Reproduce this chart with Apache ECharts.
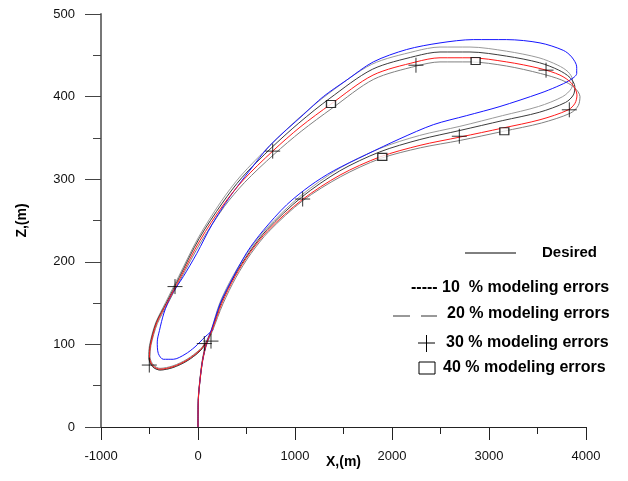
<!DOCTYPE html>
<html>
<head>
<meta charset="utf-8">
<script src="https://cdn.jsdelivr.net/npm/echarts@6/dist/echarts.min.js"></script>
<style>
html,body{margin:0;padding:0;background:#fff;}
#main{width:628px;height:481px;}
</style>
</head>
<body>
<div id="main"></div>
<script>
var fontFam = 'Liberation Sans, Arial, sans-serif';

// trajectories, [x, z] in m, in flight order (climb, right turn, back left, small loop)
var desiredPts = [[0,0],[3,33],[21,57],[48,81],[90,102],[134,116],[227,149],[330,174],[502,211],[673,238],
    [914,269],[1155,292],[1395,310],[1739,330],[2082,349],[2426,366],[2770,377],[3113,388],[3526,404],[3698,412],
    [3835,420],[3904,428],[3904,436],[3852,448],[3766,456],[3526,465],[3182,469],[2838,469],[2495,465],[2151,457],
    [1807,442],[1533,420],[1292,400],[1085,378],[742,341],[536,311],[330,279],[144,245],[-13,210],
    [-152,182],[-278,159],[-351,138],[-397,117],[-420,103],[-409,89],[-358,82],[-255,82],[-134,88],[-31,97],
    [72,109],[158,118]];
var err10Pts = [[0,0],[2,33],[19,57],[45,82],[86,103],[138,118],[227,151],[361,183],[516,212],[702,240],
    [1060,280],[1455,313],[1870,337],[2285,353],[2700,364],[3140,377],[3510,388],[3760,400],[3850,410],[3862,420],
    [3815,430],[3710,438],[3515,447],[3180,455],[2804,460],[2495,460],[2240,455],[1790,439],[1350,404],[1030,373],
    [745,341],[440,304],[238,273],[2,229],[-200,182],[-333,151],[-437,126],[-500,99],[-508,84],[-470,73],
    [-392,69],[-258,72],[-113,80],[21,92],[82,102]];
var err20Pts = [[0,0],[3,33],[20,57],[47,81],[88,102],[141,117],[237,150],[371,182],[526,211],[712,239],
    [1066,278],[1460,310],[1873,333],[2287,348],[2700,359],[3142,371],[3518,381],[3790,393],[3870,402],[3885,412],
    [3835,423],[3720,432],[3520,441],[3182,449],[2804,454],[2495,454],[2243,449],[1797,433],[1360,398],[1040,368],
    [757,338],[453,302],[250,271],[11,228],[-193,181],[-327,150],[-432,126],[-495,99],[-504,84],[-467,73],
    [-392,69],[-258,72],[-113,80],[21,92],[82,102]];
var err30Pts = [[0,0],[4,33],[22,57],[50,81],[93,101],[148,116],[257,149],[391,181],[546,210],[732,237],
    [1080,274],[1470,303],[1880,325],[2292,338],[2705,347],[3148,358],[3540,368],[3840,380],[3920,389],[3938,400],
    [3880,411],[3750,420],[3530,428],[3182,437],[2804,442],[2495,442],[2250,437],[1812,421],[1384,386],[1064,358],
    [783,330],[480,296],[272,267],[31,224],[-179,179],[-313,149],[-420,125],[-485,99],[-495,85],[-460,75],
    [-392,71],[-258,74],[-113,82],[21,94],[82,103]];
var err40Pts = [[0,0],[3,33],[21,57],[48,81],[90,102],[144,117],[247,150],[381,182],[536,211],[722,238],
    [1072,275],[1464,305],[1876,327],[2289,341],[2701,351],[3144,362],[3526,372],[3818,384],[3887,392],[3907,402],
    [3852,416],[3732,426],[3526,434],[3182,442],[2804,447],[2495,447],[2247,442],[1804,426],[1371,391],[1052,363],
    [770,334],[467,299],[261,269],[21,226],[-186,180],[-320,150],[-426,126],[-490,99],[-500,84],[-464,74],
    [-392,70],[-258,73],[-113,81],[21,93],[82,102]];

// marker positions
var crossPts = [[-502,75],[-237,170],[770,334],[1079,276],[2247,438],[2694,352],[3588,432],[3828,384],[65,101],[134,104]];
var squarePts = [[1371,391],[2862,443],[3158,358],[1900,327]];

var xTickLabels = ['-1000', '0', '1000', '2000', '3000', '4000'];

var chart = echarts.init(document.getElementById('main'));

function lineSeries(name, pts, color, z){
    return {
        name: name,
        type: 'line',
        data: pts,
        smooth: 0.3,
        showSymbol: false,
        z: z,
        lineStyle: {color: color, width: 1},
        itemStyle: {color: color}
    };
}

var txt = function(x, y, s, size){
    return {type: 'text', x: x, y: y, style: {text: s, font: 'bold ' + size + 'px ' + fontFam, fill: '#000',
        textAlign: 'left', textVerticalAlign: 'middle', align: 'left', verticalAlign: 'middle'}};
};
var seg = function(x1, y1, x2, y2, c){
    return {type: 'line', shape: {x1: x1, y1: y1, x2: x2, y2: y2}, style: {stroke: c, lineWidth: 1}};
};

var option = {
    backgroundColor: '#fff',
    animation: false,
    grid: {left: 101, right: 42, top: 14, bottom: 54, containLabel: false, outerBoundsMode: 'none'},
    xAxis: {
        type: 'value',
        min: -1000, max: 4000, interval: 1000,
        name: 'X,(m)',
        nameLocation: 'middle',
        nameGap: 28,
        nameMoveOverlap: false,
        nameTextStyle: {color: '#000', fontWeight: 'bold', fontSize: 14, fontFamily: fontFam},
        axisLine: {onZero: false, lineStyle: {color: '#222', width: 1}},
        axisTick: {length: 13, lineStyle: {color: '#222'}},
        minorTick: {show: true, splitNumber: 2, length: 7, lineStyle: {color: '#222'}},
        splitLine: {show: false},
        axisLabel: {
            margin: 23, fontSize: 13, color: '#111', fontFamily: fontFam,
            formatter: function(v){ return xTickLabels[Math.round((v + 1000) / 1000)]; }
        }
    },
    yAxis: {
        type: 'value',
        min: 0, max: 500, interval: 100,
        name: 'Z,(m)',
        nameLocation: 'middle',
        nameGap: 72,
        nameMoveOverlap: false,
        nameTextStyle: {color: '#000', fontWeight: 'bold', fontSize: 14, fontFamily: fontFam},
        axisLine: {onZero: false, lineStyle: {color: '#777', width: 2}},
        axisTick: {length: 16, lineStyle: {color: '#444'}},
        minorTick: {show: true, splitNumber: 2, length: 8, lineStyle: {color: '#444'}},
        splitLine: {show: false},
        axisLabel: {margin: 26, fontSize: 13, color: '#111', fontFamily: fontFam, formatter: function(v){ return String(v); }}
    },
    series: [
        lineSeries('10 % modeling errors', err10Pts, '#9a9a9a', 2),
        lineSeries('20 % modeling errors', err20Pts, '#3c3c3c', 3),
        lineSeries('30 % modeling errors', err30Pts, '#808080', 2),
        lineSeries('Desired', desiredPts, '#1515ff', 4),
        lineSeries('40 % modeling errors', err40Pts, '#ff1a1a', 5),
        {
            name: '30 % markers',
            type: 'scatter',
            data: crossPts,
            symbol: 'path://M0,10L20,10M10,0L10,20',
            symbolSize: 15,
            z: 6,
            itemStyle: {color: 'rgba(0,0,0,0)', borderColor: '#000', borderWidth: 1}
        },
        {
            name: '40 % markers',
            type: 'scatter',
            data: squarePts,
            symbol: 'rect',
            symbolSize: [9, 7],
            z: 6,
            itemStyle: {color: '#fff', borderColor: '#000', borderWidth: 1.2}
        }
    ],
    graphic: [
        // hand drawn legend
        seg(465, 253, 516, 253, '#000'),
        txt(542, 253, 'Desired', 15),
        txt(411, 288, '----- 10  % modeling errors', 16),
        seg(393, 316, 410, 316, '#333'),
        seg(421, 316, 437, 316, '#333'),
        txt(447, 314, '20 % modeling errors', 16),
        seg(418, 343, 435, 343, '#000'),
        seg(426.5, 335, 426.5, 352, '#000'),
        txt(446, 343, '30 % modeling errors', 16),
        {type: 'rect', shape: {x: 419, y: 362, width: 16, height: 12}, style: {stroke: '#000', fill: '#fff', lineWidth: 1}},
        txt(443, 368, '40 % modeling errors', 16)
    ]
};

chart.setOption(option);
</script>
</body>
</html>
